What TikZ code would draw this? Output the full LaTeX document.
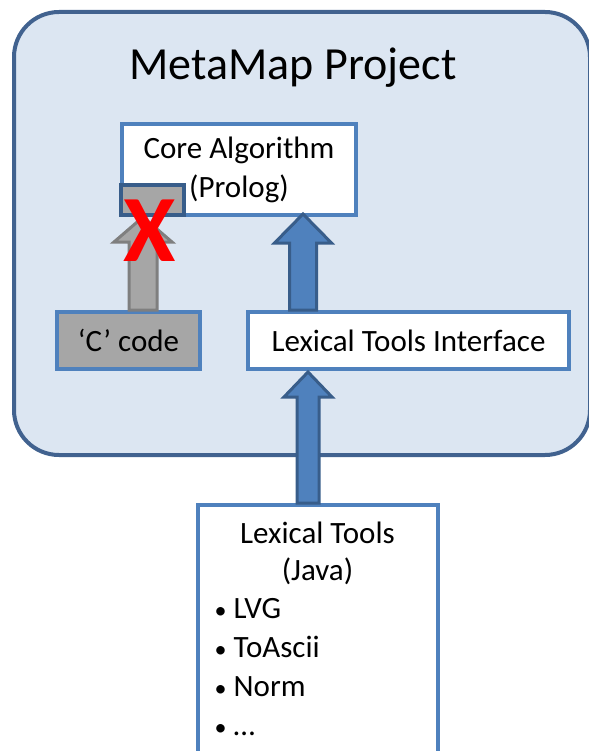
\documentclass[tikz,border=0pt]{standalone}
\usepackage{fontspec}
\setmainfont{Carlito}
\usetikzlibrary{positioning, calc}
\definecolor{projfill}{HTML}{DCE6F2}
\definecolor{projline}{HTML}{41628F}
\definecolor{boxline}{HTML}{4F81BD}
\definecolor{arrline}{HTML}{385D8A}
\definecolor{cgray}{HTML}{A6A6A6}
\definecolor{garrline}{HTML}{7F7F7F}
\newcommand{\blockarrow}[6][]{% style, tail, tip, shaft half, head half, head length
  \draw[#1] ($(#2)+(-#4,0)$) -- ($(#3)+(-#4,#6)$) -- ($(#3)+(-#5,#6)$) -- (#3)
    -- ($(#3)+(#5,#6)$) -- ($(#3)+(#4,#6)$) -- ($(#2)+(#4,0)$) -- cycle;}
\newcommand{\blt}{{\fontsize{24}{24}\selectfont•}\hspace{7pt}}
\tikzset{
  project/.style={
    draw=projline, line width=4pt, fill=projfill, rounded corners=45pt
  },
  box/.style={
    draw=boxline, line width=4pt, fill=white, inner sep=0pt,
    align=center, font=\fontsize{31}{39}\selectfont
  },
  txt/.style={
    inner sep=0pt, font=\fontsize{31}{39}\selectfont
  },
  bluearr/.style={
    draw=arrline, line width=3pt, fill=boxline, line join=miter
  },
  grayarr/.style={
    draw=garrline, line width=3pt, fill=cgray, line join=miter
  }
}

\begin{document}
\begin{tikzpicture}[x=1pt, y=-1pt]
  \useasboundingbox (0,0) rectangle (588,751);
  \node[project, minimum width=576pt, minimum height=443pt, anchor=north west] (project) at (12,10) {};
  \node[txt, font=\fontsize{46}{50}\selectfont, anchor=base] (title) at (293,80) {MetaMap Project};

  \node[box, minimum width=234pt, minimum height=91pt] (core) at (239,169.5) {Core Algorithm\\(Prolog)};
  \node[box, fill=cgray, minimum width=143pt, minimum height=57pt] (ccode) at (128.5,340.5) {‘C’ code};
  \node[box, minimum width=321pt, minimum height=57pt] (lti) at (408.5,340.5) {Lexical Tools Interface};
  \node[box, minimum width=240pt, minimum height=300pt, anchor=north] (lex) at (317.5,503) {};

  % text of the java box
  \node[txt, anchor=base] (lexname) at ($(lex.north)+(0,40)$) {Lexical Tools};
  \node[txt, anchor=base] (lexlang) at ($(lexname.base)+(0,37)$) {(Java)};
  \foreach \item [count=\i] in {LVG, ToAscii, Norm, …}
    \node[txt, anchor=base west] (item-\i) at ($(lex.north west)+(19,{115+39*(\i-1)})$) {\blt\item};

  % arrows
  \coordinate (gtail) at ($(ccode.north)+(14.5,0)$);
  \coordinate (ghead) at (gtail |- core.south);
  \blockarrow[grayarr]{gtail}{ghead}{14}{29}{25}
  \coordinate (btail) at ($(lti.north west)+(57,0)$);
  \coordinate (bhead) at ($(btail |- core.south)+(0,-3)$);
  \blockarrow[bluearr]{btail}{bhead}{13.5}{28.5}{29}
  \coordinate (ltail) at ($(lex.north)+(-9.5,0)$);
  \coordinate (lhead) at ($(ltail |- lti.south)+(0,1)$);
  \blockarrow[bluearr]{ltail}{lhead}{11}{24}{25}

  \node[draw=arrline, line width=4pt, fill=cgray, minimum width=63pt, minimum height=30pt, inner sep=0pt] (stub) at (152.5,200) {};
  \node[inner sep=0pt, text=red, font=\bfseries\fontsize{95}{95}\selectfont] (cross) at (150,231) {X};
\end{tikzpicture}
\end{document}
